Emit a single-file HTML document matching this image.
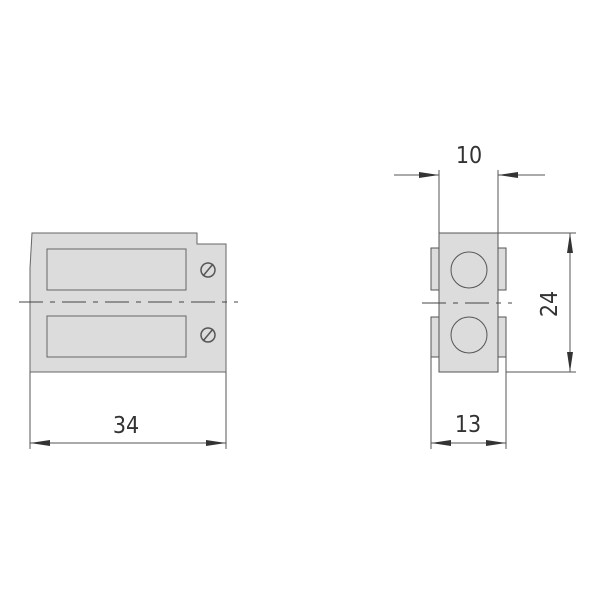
<!DOCTYPE html>
<html><head><meta charset="utf-8"><style>html,body{margin:0;padding:0;background:#fff}svg{display:block}</style></head>
<body>
<svg width="600" height="600" viewBox="0 0 600 600" xmlns="http://www.w3.org/2000/svg" font-family="'Liberation Sans Narrow','DejaVu Sans Condensed','Liberation Sans',sans-serif">
<defs>
<marker id="a" viewBox="0 0 20 8" refX="20" refY="4" markerWidth="20" markerHeight="8" orient="auto" markerUnits="userSpaceOnUse"><path d="M0,1 L20,4 L0,7 Z" fill="#333"/></marker>
</defs>
<g stroke="#555" stroke-width="1" fill="none">
<path d="M32,233 L197,233 L197,244 L226,244 L226,372 L30,372 L30,268 Z" fill="#dcdcdc" stroke="#666"/>
<rect x="47" y="249" width="139" height="41" fill="#dcdcdc" stroke="#666"/>
<rect x="47" y="316" width="139" height="41" fill="#dcdcdc" stroke="#666"/>
<circle cx="208" cy="270" r="7" stroke="#555" stroke-width="1.5"/>
<line x1="203" y1="276" x2="213" y2="264" stroke="#555" stroke-width="1.5"/>
<circle cx="208" cy="335" r="7" stroke="#555" stroke-width="1.5"/>
<line x1="203" y1="341" x2="213" y2="329" stroke="#555" stroke-width="1.5"/>
<line x1="19" y1="302" x2="238" y2="302" stroke="#444" stroke-dasharray="24,7,5,7"/>
<line x1="30" y1="372" x2="30" y2="449"/>
<line x1="226" y1="372" x2="226" y2="449"/>
<line x1="50" y1="443" x2="30" y2="443" marker-end="url(#a)"/>
<line x1="50" y1="443" x2="206" y2="443"/>
<line x1="206" y1="443" x2="226" y2="443" marker-end="url(#a)"/>
<rect x="431" y="248" width="8" height="42" fill="#dcdcdc"/>
<rect x="431" y="317" width="8" height="40" fill="#dcdcdc"/>
<rect x="498" y="248" width="8" height="42" fill="#dcdcdc"/>
<rect x="498" y="317" width="8" height="40" fill="#dcdcdc"/>
<rect x="439" y="233" width="59" height="139" fill="#dcdcdc" stroke="#555"/>
<circle cx="469" cy="270" r="18" stroke="#555"/>
<circle cx="469" cy="335" r="18" stroke="#555"/>
<line x1="422" y1="303" x2="512" y2="303" stroke="#444" stroke-dasharray="24,7,5,7"/>
<line x1="439" y1="170" x2="439" y2="233"/>
<line x1="498" y1="170" x2="498" y2="233"/>
<line x1="394" y1="175" x2="439" y2="175" marker-end="url(#a)"/>
<line x1="545" y1="175" x2="498" y2="175" marker-end="url(#a)"/>
<line x1="498" y1="233" x2="576" y2="233"/>
<line x1="506" y1="372" x2="576" y2="372"/>
<line x1="570" y1="253" x2="570" y2="233" marker-end="url(#a)"/>
<line x1="570" y1="253" x2="570" y2="352"/>
<line x1="570" y1="352" x2="570" y2="372" marker-end="url(#a)"/>
<line x1="431" y1="357" x2="431" y2="449"/>
<line x1="506" y1="357" x2="506" y2="449"/>
<line x1="451" y1="443" x2="431" y2="443" marker-end="url(#a)"/>
<line x1="451" y1="443" x2="486" y2="443"/>
<line x1="486" y1="443" x2="506" y2="443" marker-end="url(#a)"/>
</g>
<g fill="#333" font-size="23" text-anchor="middle">
<text x="126" y="433">34</text>
<text x="469" y="163">10</text>
<text x="468" y="432">13</text>
<text x="0" y="0" transform="translate(557,304) rotate(-90)">24</text>
</g>
</svg>
</body></html>
